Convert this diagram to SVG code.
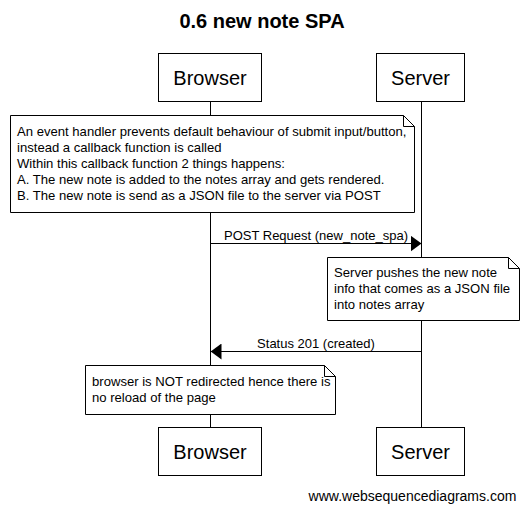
<svg xmlns="http://www.w3.org/2000/svg" width="528" height="511" viewBox="0 0 528 511">
<defs>
<style>
text{font-family:"Liberation Sans",Arial,sans-serif;fill:#000}
.box{fill:#fff;stroke:#000;stroke-width:1}
.actor{font-size:20px;text-anchor:middle}
.note{fill:#fff;stroke:#000;stroke-width:1}
.nt{font-size:13.1px}
.line{stroke:#000;stroke-width:1;fill:none}
.lbl{font-size:13px;text-anchor:middle}
</style>
<marker id="ah" markerWidth="11" markerHeight="16" refX="11" refY="8" orient="auto" markerUnits="userSpaceOnUse">
<path d="M0,0 L11,8 L0,16 Z" fill="#000"/>
</marker>
</defs>
<rect width="528" height="511" fill="#fff"/>
<text x="262" y="28" font-size="20" font-weight="bold" text-anchor="middle">0.6 new note SPA</text>
<g id="lifelines">
<line class="line" x1="210.5" y1="101" x2="210.5" y2="427"/>
<line class="line" x1="421.5" y1="101" x2="421.5" y2="427"/>
</g>
<g id="browser-top"><rect class="box" x="158.5" y="53.5" width="103" height="48"/><text class="actor" x="210" y="85">Browser</text></g>
<g id="server-top"><rect class="box" x="376.5" y="53.5" width="88" height="48"/><text class="actor" x="420.5" y="85">Server</text></g>
<g id="browser-bottom"><rect class="box" x="158.5" y="427.5" width="103" height="48"/><text class="actor" x="210" y="459">Browser</text></g>
<g id="server-bottom"><rect class="box" x="376.5" y="427.5" width="88" height="48"/><text class="actor" x="420.5" y="459">Server</text></g>
<g id="note1">
<path class="note" d="M10.5,115.5 H403.5 L414.5,126.5 V212.5 H10.5 Z"/>
<path class="line" d="M403.5,115.5 V126.5 H414.5"/>
<text class="nt" x="17" y="136">An event handler prevents default behaviour of submit input/button,</text>
<text class="nt" x="17" y="152">instead a callback function is called</text>
<text class="nt" x="17" y="168">Within this callback function 2 things happens:</text>
<text class="nt" x="17" y="184">A. The new note is added to the notes array and gets rendered.</text>
<text class="nt" x="17" y="200">B. The new note is send as a JSON file to the server via POST</text>
</g>
<g id="connectors">
<line class="line" x1="210.5" y1="243.5" x2="421.5" y2="243.5" marker-end="url(#ah)"/>
<text class="lbl" x="316" y="240">POST Request (new_note_spa)</text>
<line class="line" x1="421.5" y1="351.5" x2="210.5" y2="351.5" marker-end="url(#ah)"/>
<text class="lbl" x="316" y="348">Status 201 (created)</text>
</g>
<g id="note2">
<path class="note" d="M327.5,257.5 H508.5 L519.5,268.5 V320.5 H327.5 Z"/>
<path class="line" d="M508.5,257.5 V268.5 H519.5"/>
<text class="nt" x="334" y="277">Server pushes the new note</text>
<text class="nt" x="334" y="293">info that comes as a JSON file</text>
<text class="nt" x="334" y="309">into notes array</text>
</g>
<g id="note3">
<path class="note" d="M85.5,365.5 H324.5 L335.5,376.5 V414.5 H85.5 Z"/>
<path class="line" d="M324.5,365.5 V376.5 H335.5"/>
<text class="nt" x="92" y="386">browser is NOT redirected hence there is</text>
<text class="nt" x="92" y="402">no reload of the page</text>
</g>
<text x="412.5" y="501" font-size="14" text-anchor="middle">www.websequencediagrams.com</text>
</svg>
